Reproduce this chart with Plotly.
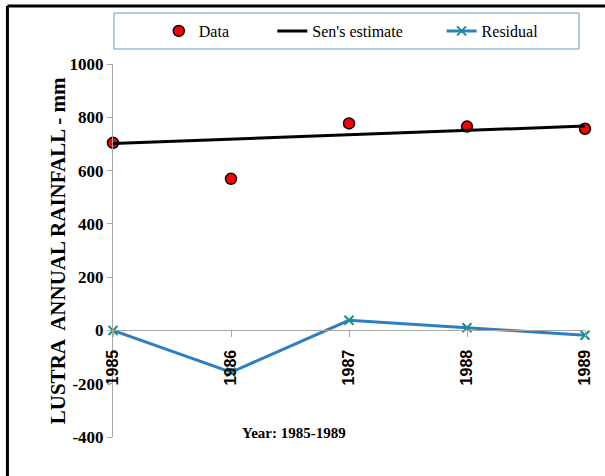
import plotly.graph_objects as go

years = [1985, 1986, 1987, 1988, 1989]
x_tick_labels = ["1985", "1986", "1987", "1988", "1989"]
y_tick_values = [-400, -200, 0, 200, 400, 600, 800, 1000]
y_tick_labels = ["-400", "-200", "0", "200", "400", "600", "800", "1000"]
data_values = [704, 569, 777, 765, 757]
sen_values = [702, 718, 735, 751, 767]
residual_values = [0, -157, 38, 10, -18]

SERIF = "Liberation Serif, Times New Roman, serif"
SANS = "Liberation Sans, Arial, sans-serif"

fig = go.Figure()
fig.add_trace(go.Scatter(
    x=years, y=data_values, mode="markers", name="Data",
    marker=dict(color="#ff0000", size=11, line=dict(color="black", width=1.5)),
    cliponaxis=False, legend="legend", showlegend=True))
fig.add_trace(go.Scatter(
    x=years, y=sen_values, mode="lines", name="Sen's estimate",
    line=dict(color="black", width=3), cliponaxis=False, legend="legend2",
    showlegend=True))
fig.add_trace(go.Scatter(
    x=years, y=residual_values, mode="lines+markers", name="Residual",
    line=dict(color="#2f7ec3", width=3),
    marker=dict(symbol="x-thin", size=9, color="#17918a",
                line=dict(color="#17918a", width=2)),
    cliponaxis=False, legend="legend3", showlegend=True))

W, H = 605, 476
L, R, T, B = 113, 18, 64, 39
pw, ph = W - L - R, H - T - B

def px(x):
    return (x - L) / pw

def py(y):
    return (H - B - y) / ph

legend_common = dict(orientation="h", yanchor="middle", xanchor="left",
                     bgcolor="rgba(0,0,0,0)", borderwidth=0,
                     font=dict(family=SERIF, size=16, color="black"))

fig.update_layout(
    width=W, height=H,
    margin=dict(l=L, r=R, t=T, b=B),
    paper_bgcolor="white", plot_bgcolor="white",
    showlegend=True,
    legend=dict(x=px(159), y=py(31), **legend_common),
    legend2=dict(x=px(273), y=py(31), **legend_common),
    legend3=dict(x=px(443), y=py(31), **legend_common),
    xaxis=dict(range=[1985, 1989], tickvals=years, ticktext=x_tick_labels,
               anchor="free", position=400 / 1400,
               showline=True, linecolor="#a6a6a6", linewidth=1,
               ticks="outside", ticklen=6, tickcolor="#a6a6a6",
               ticklabelstandoff=6,
               tickangle=-90, showgrid=False, zeroline=False,
               tickfont=dict(family=SANS, size=16, color="black", weight="bold")),
    yaxis=dict(range=[-400, 1000], tickvals=y_tick_values, ticktext=y_tick_labels,
               showline=True, linecolor="#a6a6a6", linewidth=1,
               ticks="outside", ticklen=5, tickcolor="#a6a6a6",
               showgrid=False, zeroline=False,
               tickfont=dict(family=SERIF, size=17, color="black", weight="bold")),
    shapes=[
        dict(type="rect", xref="paper", yref="paper",
             x0=px(114), x1=px(581), y0=py(49), y1=py(13),
             line=dict(color="#5b9bd5", width=1), fillcolor="rgba(0,0,0,0)"),
        dict(type="line", xref="paper", yref="paper",
             x0=px(7), x1=px(620), y0=py(6), y1=py(6),
             line=dict(color="black", width=3)),
        dict(type="line", xref="paper", yref="paper",
             x0=px(7), x1=px(7), y0=py(6), y1=py(490),
             line=dict(color="black", width=3)),
    ],
    annotations=[
        dict(text="LUSTRA  ANNUAL RAINFALL - mm", xref="paper", yref="paper",
             x=px(58), y=py(251), xanchor="center", yanchor="middle",
             textangle=-90, showarrow=False,
             font=dict(family=SERIF, size=21, color="black", weight="bold")),
        dict(text="Year: 1985-1989", xref="paper", yref="paper",
             x=px(295), y=py(433), xanchor="center", yanchor="middle",
             showarrow=False,
             font=dict(family=SERIF, size=15, color="black", weight="bold")),
    ],
)

fig.write_html("out.html", config={"displayModeBar": False},
               post_script="document.body.style.margin='0';document.body.style.padding='0';")
